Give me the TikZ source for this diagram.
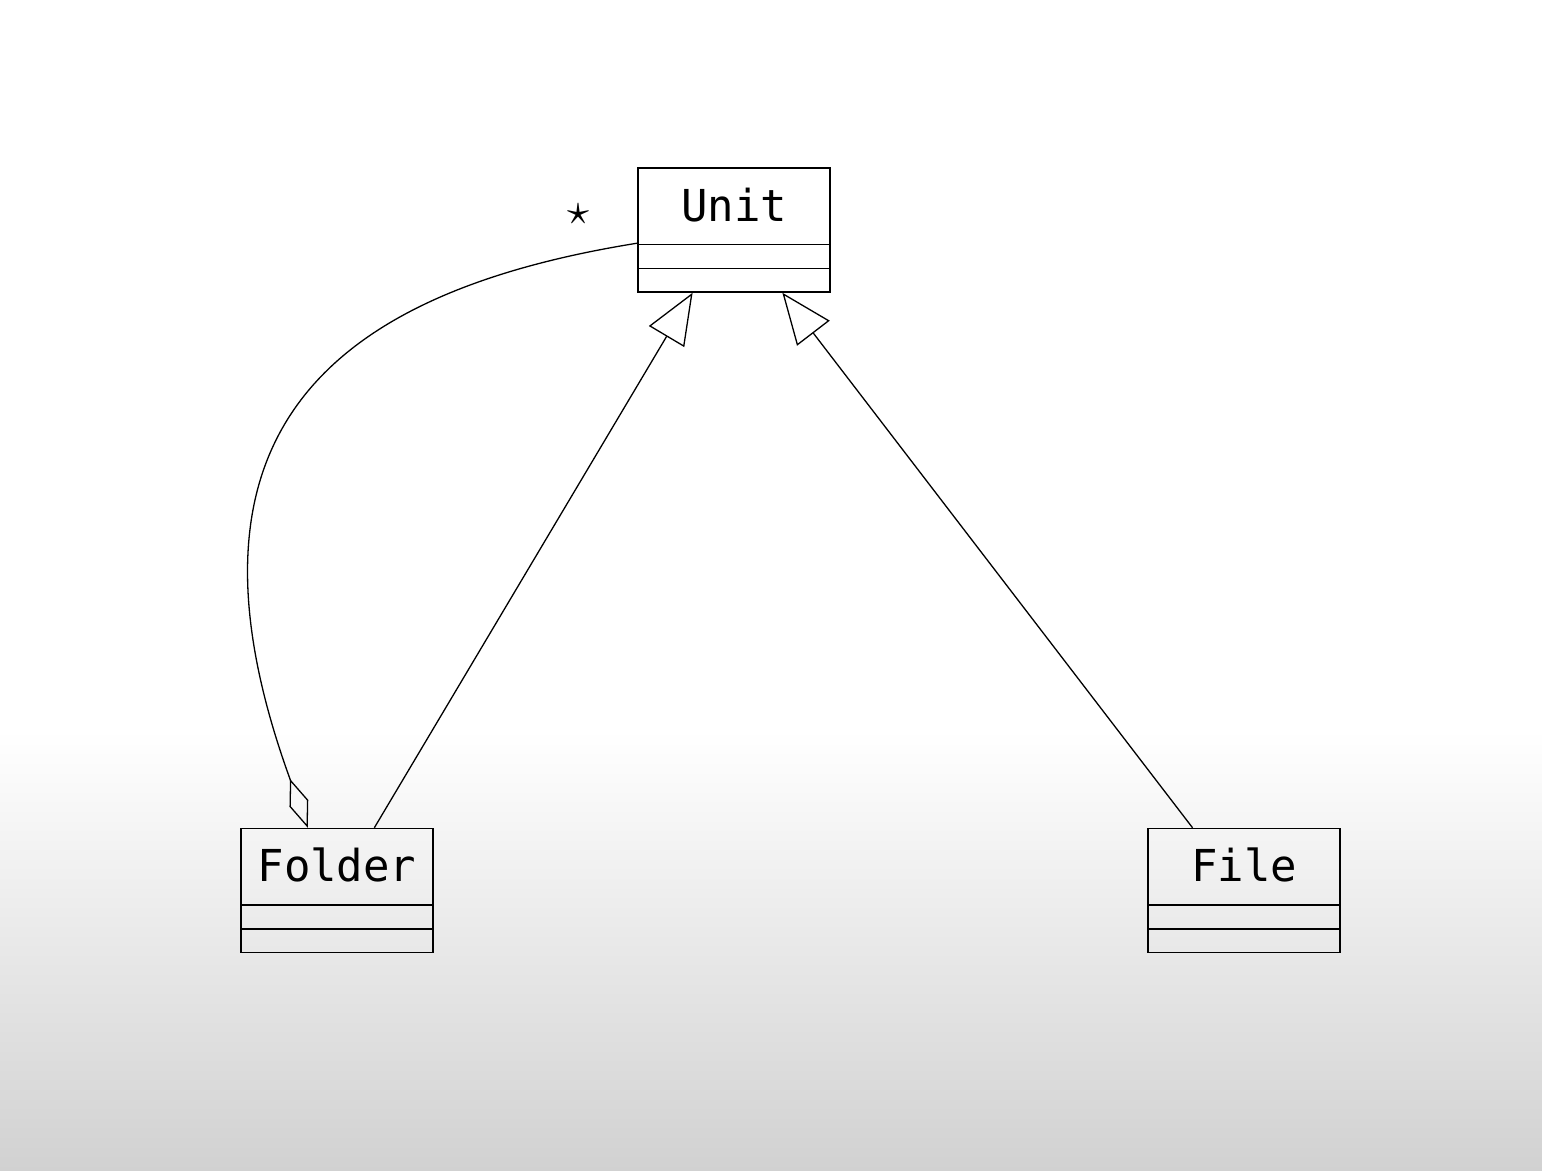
\documentclass[tikz,border=0pt]{standalone}
\usepackage{graphicx}
\usepackage{fontspec}
\setmonofont{DejaVu Sans Mono}
\usetikzlibrary{arrows.meta,calc}
\begin{document}
\begin{tikzpicture}[x=1pt,y=-1pt,
  umlbox/.style={draw,line width=1.5pt,minimum width=192pt,minimum height=124pt,inner sep=0pt,fill=none},
  umlname/.style={font=\ttfamily\fontsize{44}{50}\selectfont,inner sep=0pt,anchor=base},
  conn/.style={line width=1.3pt},
  inherit/.style={conn,-{Triangle[open,length=51pt,width=41pt,line width=1.3pt]}},
  aggr/.style={conn,{Diamond[open,length=52pt,width=20pt,line width=1.3pt]}-}
]
\useasboundingbox (0,0) rectangle (1542,1170);
\fill[white] (0,0) rectangle (1542,731);
\shade[top color=white,bottom color=black!18] (0,730) rectangle (1542,1170);

% classes
\node[umlbox] (unit) at (734,230) {};
\node[umlbox] (folder) at (337,890.5) {};
\node[umlbox] (file) at (1244,890.5) {};

\node[umlname] (unitname) at ($(unit.north)+(0,54)$) {Unit};
\node[umlname] (foldername) at ($(folder.north)+(0,54)$) {Folder};
\node[umlname] (filename) at ($(file.north)+(0,54)$) {File};

\foreach \b in {unit,folder,file}{
  \draw[line width=1.5pt] ($(\b.north west)+(0,77)$) -- ($(\b.north east)+(0,77)$);
  \draw[line width=1.5pt] ($(\b.north west)+(0,101)$) -- ($(\b.north east)+(0,101)$);
}

% connectors
\coordinate (fo1) at ($(folder.north west)!0.693!(folder.north east)$);
\coordinate (un1) at ($(unit.south west)!0.286!(unit.south east)$);
\coordinate (fi1) at ($(file.north west)!0.234!(file.north east)$);
\coordinate (un2) at ($(unit.south west)!0.75!(unit.south east)$);
\coordinate (fo2) at ($(folder.north west)!0.349!(folder.north east)$);
\coordinate (un3) at ($(unit.north west)!0.605!(unit.south west)$);

\draw[inherit] (fo1) -- (un1);
\draw[inherit] (fi1) -- (un2);
\draw[aggr] (fo2) .. controls (170,450) and (308,296) .. (un3);

\node[inner sep=0pt] (mult) at (578,214) {\scalebox{4.4}{$\star$}};
\end{tikzpicture}
\end{document}
